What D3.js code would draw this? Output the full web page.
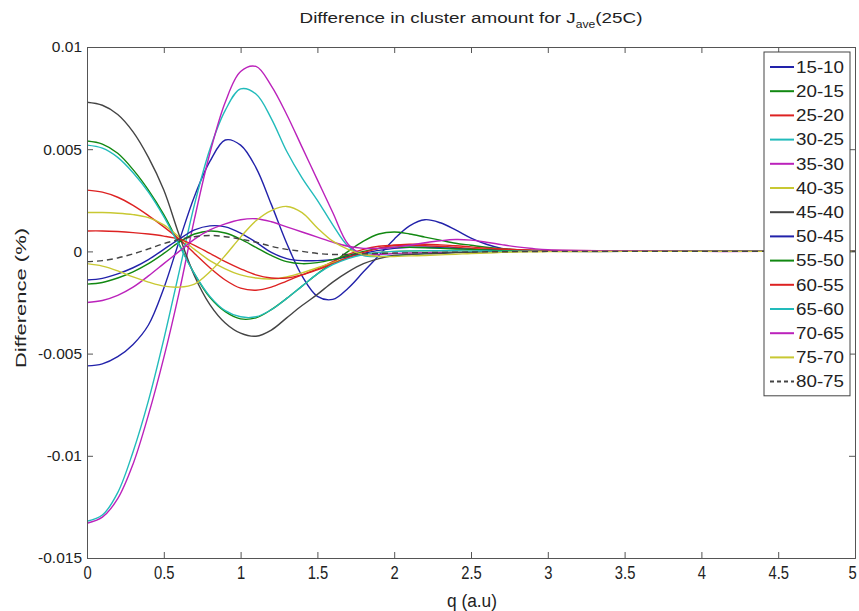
<!DOCTYPE html>
<html>
<head>
<meta charset="utf-8">
<script src="https://cdn.jsdelivr.net/npm/d3@7.9.0/dist/d3.min.js"></script>
<style>
  body { margin: 0; background: #fff; }
  svg { display: block; font-family: 'Liberation Sans', Arial, sans-serif; }
</style>
</head>
<body>
<svg id="chart" width="859" height="611"></svg>
<script>
// q grid (a.u) shared by every series
const qs = [0, 0.1, 0.2, 0.3, 0.4, 0.5, 0.6, 0.7, 0.8, 0.9, 1.0, 1.1, 1.2, 1.3, 1.4, 1.5,
  1.6, 1.7, 1.8, 1.9, 2.0, 2.1, 2.2, 2.3, 2.4, 2.5, 2.6, 2.7, 2.8, 2.9, 3.0, 3.5, 4.0, 4.5, 5.0];

// values in units of 1e-3 (%)
const s15_10 = [-5.6, -5.5, -5.15, -4.55, -3.6, -1.8, 0.5, 2.7, 4.4, 5.45, 5.2, 4.1, 2.3, 0.4, -1.2, -2.2,
  -2.35, -1.8, -1.0, -0.2, 0.6, 1.25, 1.55, 1.4, 1.05, 0.65, 0.35, 0.15, 0.06, 0.02, 0, 0, 0, 0, 0];
const s20_15 = [5.4, 5.25, 4.8, 4.0, 3.0, 1.8, 0.35, -1.1, -2.25, -2.95, -3.3, -3.25, -2.85, -2.3, -1.7, -1.1,
  -0.55, 0.0, 0.5, 0.85, 0.95, 0.85, 0.7, 0.55, 0.4, 0.3, 0.2, 0.13, 0.08, 0.05, 0.03, 0.01, 0, 0, 0];
const s25_20 = [3.0, 2.9, 2.65, 2.25, 1.75, 1.2, 0.6, -0.1, -0.8, -1.4, -1.8, -1.9, -1.75, -1.45, -1.15, -0.85,
  -0.5, -0.15, 0.1, 0.25, 0.3, 0.3, 0.28, 0.25, 0.2, 0.15, 0.12, 0.1, 0.08, 0.06, 0.05, 0.02, 0.01, 0, 0];
const s30_25 = [-13.2, -12.9, -11.8, -9.8, -7.3, -4.3, -1.0, 2.3, 5.0, 6.9, 7.95, 7.7, 6.5, 4.9, 3.6, 2.5,
  1.3, 0.25, -0.2, -0.25, -0.2, -0.15, -0.1, -0.08, -0.05, -0.03, -0.02, -0.01, 0, 0, 0, 0, 0, 0, 0];
const s35_30 = [-13.3, -13.0, -12.1, -10.4, -8.0, -5.2, -2.0, 1.6, 4.8, 7.3, 8.8, 9.05, 8.1, 6.7, 5.1, 3.5,
  1.9, 0.35, -0.15, -0.15, -0.1, -0.08, -0.06, -0.04, -0.03, -0.02, -0.01, 0, 0, 0, 0, 0, 0, 0, 0];
const s40_35 = [1.9, 1.9, 1.87, 1.8, 1.65, 1.3, 0.7, 0.1, -0.45, -0.85, -1.15, -1.3, -1.35, -1.25, -1.05, -0.8,
  -0.55, -0.3, -0.15, -0.05, 0.0, 0.02, 0.03, 0.03, 0.03, 0.03, 0.02, 0.02, 0.02, 0.01, 0.01, 0, 0, 0, 0];
const s45_40 = [7.3, 7.15, 6.7, 5.85, 4.6, 3.0, 0.8, -1.2, -2.6, -3.5, -4.0, -4.15, -3.85, -3.25, -2.65, -2.1,
  -1.5, -1.0, -0.6, -0.35, -0.2, -0.15, -0.12, -0.1, -0.06, -0.04, -0.02, 0, 0, 0, 0, 0, 0, 0, 0];
const s50_45 = [-1.4, -1.32, -1.1, -0.8, -0.4, 0.1, 0.6, 1.05, 1.25, 1.2, 0.9, 0.45, -0.05, -0.35, -0.45, -0.45,
  -0.4, -0.25, -0.1, 0.05, 0.15, 0.2, 0.2, 0.18, 0.15, 0.1, 0.07, 0.05, 0.03, 0.02, 0.01, 0, 0, 0, 0];
const s55_50 = [-1.6, -1.52, -1.3, -1.0, -0.6, -0.1, 0.45, 0.85, 1.0, 0.9, 0.6, 0.2, -0.2, -0.5, -0.6, -0.55,
  -0.4, -0.2, 0.0, 0.15, 0.2, 0.2, 0.18, 0.15, 0.12, 0.1, 0.07, 0.05, 0.03, 0.02, 0.01, 0, 0, 0, 0];
const s60_55 = [1.0, 1.0, 0.97, 0.92, 0.85, 0.75, 0.6, 0.3, -0.1, -0.5, -0.85, -1.15, -1.3, -1.3, -1.15, -0.9,
  -0.6, -0.3, -0.05, 0.15, 0.3, 0.35, 0.35, 0.32, 0.28, 0.22, 0.16, 0.12, 0.08, 0.05, 0.03, 0.01, 0, 0, 0];
const s65_60 = [5.2, 5.05, 4.6, 3.85, 2.9, 1.7, 0.3, -1.1, -2.2, -2.9, -3.2, -3.2, -2.85, -2.3, -1.7, -1.1,
  -0.65, -0.35, -0.15, -0.05, 0, 0.02, 0.03, 0.03, 0.03, 0.02, 0.02, 0.01, 0.01, 0.01, 0, 0, 0, 0, 0];
const s70_65 = [-2.5, -2.4, -2.15, -1.75, -1.2, -0.6, 0.0, 0.6, 1.05, 1.35, 1.55, 1.6, 1.45, 1.2, 0.95, 0.7,
  0.45, 0.25, 0.15, 0.15, 0.2, 0.3, 0.42, 0.52, 0.58, 0.55, 0.45, 0.33, 0.22, 0.14, 0.08, 0.02, 0, 0, 0];
const s75_70 = [-0.6, -0.72, -0.95, -1.25, -1.5, -1.7, -1.75, -1.6, -1.0, -0.2, 0.7, 1.5, 2.0, 2.2, 1.9, 1.15,
  0.5, 0.1, -0.15, -0.25, -0.25, -0.22, -0.2, -0.17, -0.14, -0.1, -0.08, -0.05, -0.03, -0.02, -0.01, 0, 0, 0, 0];
const s80_75 = [-0.5, -0.45, -0.32, -0.12, 0.12, 0.38, 0.58, 0.72, 0.78, 0.72, 0.6, 0.45, 0.25, 0.1, 0.0, -0.1,
  -0.15, -0.15, -0.12, -0.1, -0.08, -0.07, -0.06, -0.05, -0.04, -0.03, -0.02, -0.02, -0.01, -0.01, 0, 0, 0, 0, 0];

const labels = ['15-10', '20-15', '25-20', '30-25', '35-30', '40-35', '45-40',
  '50-45', '55-50', '60-55', '65-60', '70-65', '75-70', '80-75'];
const values = [s15_10, s20_15, s25_20, s30_25, s35_30, s40_35, s45_40,
  s50_45, s55_50, s60_55, s65_60, s70_65, s75_70, s80_75];
const colors = ['#2222aa', '#118811', '#dd2222', '#22bbbb', '#bb22bb', '#c8c832', '#444444'];

const xTicks = [0, 0.5, 1, 1.5, 2, 2.5, 3, 3.5, 4, 4.5, 5];
const yTicks = [0.01, 0.005, 0, -0.005, -0.01, -0.015];

const series = labels.map((name, i) => ({
  name,
  color: colors[i % 7],
  dashed: i === 13,
  points: qs.map((q, j) => ({ q, v: values[i][j] * 1e-3 }))
}));

const svg = d3.select('#chart');
const plot = { left: 87, right: 855, top: 47, bottom: 558 };

const xScale = d3.scaleLinear().domain([0, 5]).range([plot.left, plot.right]);
const yScale = d3.scaleLinear().domain([-0.015, 0.01]).range([plot.bottom, plot.top]);

svg.append('rect').attr('width', 859).attr('height', 611).attr('fill', '#fff');

// curves
const line = d3.line()
  .x(d => xScale(d.q))
  .y(d => yScale(d.v))
  .curve(d3.curveCatmullRom.alpha(0.5));

svg.append('defs').append('clipPath').attr('id', 'clip')
  .append('rect')
  .attr('x', plot.left).attr('y', plot.top)
  .attr('width', plot.right - plot.left).attr('height', plot.bottom - plot.top);

svg.append('g').attr('clip-path', 'url(#clip)')
  .selectAll('path')
  .data(series)
  .join('path')
  .attr('d', d => line(d.points))
  .attr('fill', 'none')
  .attr('stroke', d => d.color)
  .attr('stroke-width', 1.4)
  .attr('stroke-dasharray', d => d.dashed ? '6,4' : null);

// axes (ticks inside, box style)
const axisColor = '#555';
const fmtY = d => d === 0 ? '0' : String(d);

const bottomAxis = svg.append('g')
  .attr('transform', `translate(0,${plot.bottom})`)
  .call(d3.axisBottom(xScale).tickValues(xTicks).tickSize(-6).tickPadding(8).tickFormat(d => String(d)));
const topAxis = svg.append('g')
  .attr('transform', `translate(0,${plot.top})`)
  .call(d3.axisTop(xScale).tickValues(xTicks).tickSize(-6).tickFormat(''));
const leftAxis = svg.append('g')
  .attr('transform', `translate(${plot.left},0)`)
  .call(d3.axisLeft(yScale).tickValues(yTicks).tickSize(-6).tickPadding(5).tickFormat(fmtY));
const rightAxis = svg.append('g')
  .attr('transform', `translate(${plot.right},0)`)
  .call(d3.axisRight(yScale).tickValues(yTicks).tickSize(-6).tickFormat(''));

[bottomAxis, topAxis, leftAxis, rightAxis].forEach(g => {
  g.select('.domain').attr('stroke', axisColor);
  g.selectAll('.tick line').attr('stroke', axisColor);
  g.selectAll('.tick text')
    .attr('fill', '#222')
    .style('font-family', "'Liberation Sans', Arial, sans-serif");
});
leftAxis.selectAll('.tick text').style('font-size', '15.5px');

// x tick labels are tall and narrow in the original
bottomAxis.selectAll('.tick text')
  .style('font-size', '18px')
  .each(function () {
    const w = this.getComputedTextLength();
    d3.select(this).attr('textLength', w * 0.82).attr('lengthAdjust', 'spacingAndGlyphs');
  });
// keep the last label inside the page
bottomAxis.selectAll('.tick text').filter(d => d === 5).attr('x', -3);

// title
const title = svg.append('text')
  .attr('x', (plot.left + plot.right) / 2)
  .attr('y', 23)
  .attr('text-anchor', 'middle')
  .attr('fill', '#222')
  .style('font-size', '15.5px');
title.append('tspan').text('Difference in cluster amount for J');
title.append('tspan').attr('dy', 5).style('font-size', '10px').text('ave');
title.append('tspan').attr('dy', -5).text('(25C)');
{
  const cx = (plot.left + plot.right) / 2;
  const w = title.node().getBBox().width;
  const sx = 343 / w;
  title.attr('transform', `translate(${cx},0) scale(${sx},1) translate(${-cx},0)`);
}

// axis labels
svg.append('text')
  .attr('x', 472)
  .attr('y', 607)
  .attr('text-anchor', 'middle')
  .attr('fill', '#222')
  .style('font-size', '18px')
  .attr('textLength', 50)
  .attr('lengthAdjust', 'spacingAndGlyphs')
  .text('q (a.u)');

svg.append('text')
  .attr('transform', `translate(26,298) rotate(-90)`)
  .attr('text-anchor', 'middle')
  .attr('fill', '#222')
  .style('font-size', '15px')
  .attr('textLength', 140)
  .attr('lengthAdjust', 'spacingAndGlyphs')
  .text('Difference (%)');

// legend
const lx = 764, ly = 52, lw = 86, rowH = 24.2;
const legend = svg.append('g');
legend.append('rect')
  .attr('x', lx).attr('y', ly)
  .attr('width', lw).attr('height', rowH * labels.length + 5)
  .attr('fill', '#fff').attr('stroke', '#444').attr('stroke-width', 1);

const rows = legend.selectAll('g.row')
  .data(series)
  .join('g')
  .attr('class', 'row')
  .attr('transform', (d, i) => `translate(${lx},${ly + 15 + i * rowH})`);

rows.append('line')
  .attr('x1', 6).attr('x2', 30)
  .attr('stroke', d => d.color)
  .attr('stroke-width', 2)
  .attr('stroke-dasharray', d => d.dashed ? '4,3' : null);

rows.append('text')
  .attr('x', 32)
  .attr('dy', '0.36em')
  .attr('fill', '#222')
  .style('font-size', '16px')
  .attr('textLength', 48)
  .attr('lengthAdjust', 'spacingAndGlyphs')
  .text(d => d.name);
</script>
</body>
</html>
